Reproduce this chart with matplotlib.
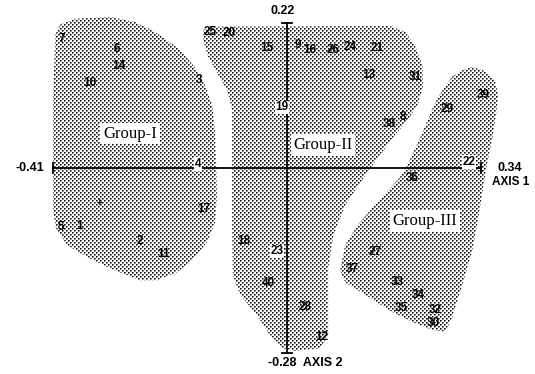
import numpy as np
import matplotlib.pyplot as plt
from matplotlib.patches import Polygon

# sample scores on the first two axes
amostras = ['7', '6', '14', '10', '3', '25', '20', '15', '9', '16', '26', '24', '21',
            '13', '31', '19', '39', '29', '38', '8', '4', '22', '36', '17', '5', '1',
            '2', '11', '18', '23', '40', '28', '12', '27', '37', '33', '34', '35',
            '32', '30']
eixo1 = [-0.394, -0.298, -0.294, -0.345, -0.154, -0.135, -0.102, -0.035, 0.019, 0.040,
         0.081, 0.110, 0.158, 0.144, 0.224, -0.009, 0.343, 0.280, 0.180, 0.203,
         -0.156, 0.319, 0.219, -0.145, -0.396, -0.363, -0.258, -0.217, -0.075, -0.018,
         -0.033, 0.032, 0.061, 0.154, 0.114, 0.194, 0.230, 0.201, 0.259, 0.256]
eixo2 = [0.195, 0.180, 0.155, 0.129, 0.133, 0.206, 0.205, 0.182, 0.186, 0.179,
         0.179, 0.183, 0.182, 0.141, 0.138, 0.092, 0.111, 0.089, 0.067, 0.077,
         0.006, 0.009, -0.015, -0.062, -0.089, -0.088, -0.111, -0.130, -0.111, -0.126,
         -0.174, -0.211, -0.256, -0.127, -0.153, -0.173, -0.192, -0.212, -0.215, -0.235]
noEixo = ['4', '22', '19', '23']  # labels that sit on the axis lines
centroide = (-0.328, -0.053)

# axis extents
eixo1Min, eixo1Max = -0.41, 0.34
eixo2Min, eixo2Max = -0.28, 0.22

# group outlines (axis units)
grupo1_x = [-0.406, -0.398, -0.371, -0.310, -0.266, -0.231, -0.187, -0.161, -0.144, -0.131,
            -0.126, -0.124, -0.123, -0.126, -0.140, -0.165, -0.193, -0.228, -0.258, -0.310,
            -0.350, -0.385, -0.405, -0.410, -0.410]
grupo1_y = [0.202, 0.217, 0.226, 0.229, 0.221, 0.206, 0.179, 0.152, 0.126, 0.095,
            0.050, -0.003, -0.041, -0.082, -0.112, -0.139, -0.158, -0.170, -0.170, -0.152,
            -0.135, -0.117, -0.091, -0.064, 0.103]
grupo2_x = [-0.147, -0.135, 0.180, 0.207, 0.224, 0.237, 0.238, 0.230, 0.212, 0.189,
            0.163, 0.137, 0.123, 0.102, 0.081, 0.072, 0.072, 0.058, 0.014, -0.007,
            -0.030, -0.053, -0.082, -0.095, -0.096, -0.096, -0.105, -0.123, -0.138, -0.147]
grupo2_y = [0.209, 0.214, 0.215, 0.206, 0.186, 0.156, 0.123, 0.098, 0.073, 0.050,
            0.020, -0.011, -0.029, -0.056, -0.102, -0.152, -0.253, -0.273, -0.277, -0.273,
            -0.253, -0.223, -0.192, -0.162, -0.094, 0.088, 0.118, 0.145, 0.168, 0.194]
grupo3_x = [0.289, 0.307, 0.324, 0.347, 0.364, 0.370, 0.366, 0.359, 0.350, 0.343,
            0.335, 0.324, 0.307, 0.289, 0.277, 0.254, 0.219, 0.184, 0.137, 0.102,
            0.093, 0.102, 0.124, 0.154, 0.194, 0.207, 0.221, 0.237, 0.254, 0.265]
grupo3_y = [0.138, 0.148, 0.153, 0.147, 0.133, 0.111, 0.080, 0.042, 0.005, -0.033,
            -0.076, -0.127, -0.177, -0.227, -0.248, -0.245, -0.233, -0.218, -0.192, -0.173,
            -0.155, -0.117, -0.086, -0.056, -0.018, -0.003, 0.023, 0.053, 0.088, 0.108]
grupoNomes = ['Group-I', 'Group-II', 'Group-III']
grupoPos = [(-0.275, 0.052), (0.063, 0.035), (0.242, -0.080)]

xlim = (-0.503, 0.4345)
ylim = (-0.3121, 0.2545)

fig = plt.figure(figsize=(5.35, 3.74), dpi=100)
ax = fig.add_axes([0, 0, 1, 1])
ax.axis('off')

# stipple screen (diamond dot lattice) used to shade the groups
h, w = 374, 535
ii, jj = np.mgrid[0:h, 0:w]
tela = np.ones((h, w))
a = ii % 4
b = (jj - 2 * ((ii // 2) % 2)) % 4
tela[(a % 2 == 0) & (b == 0)] = 0.05
tela[(a % 2 == 0) & (b == 1)] = 0.4
tela[(a % 2 == 1) & (b == 0)] = 0.4
tela[(a % 2 == 1) & (b == 1)] = 0.7

for gx, gy in [(grupo1_x, grupo1_y), (grupo2_x, grupo2_y), (grupo3_x, grupo3_y)]:
    poly = Polygon(np.column_stack([gx, gy]), closed=True, facecolor='none', edgecolor='none')
    ax.add_patch(poly)
    im = ax.imshow(tela, cmap='gray', vmin=0, vmax=1, extent=(xlim[0], xlim[1], ylim[0], ylim[1]),
                   origin='upper', aspect='auto', interpolation='nearest', zorder=1)
    im.set_clip_path(poly)

# axis lines with end bars
ax.plot([eixo1Min, eixo1Max], [0, 0], color='black', lw=1.3, zorder=2)
ax.plot([0, 0], [eixo2Min, eixo2Max], color='black', lw=1.3, zorder=2)
for xe in [eixo1Min, eixo1Max]:
    ax.plot([xe, xe], [-0.007, 0.007], color='black', lw=1.3, zorder=2)
for ye in [eixo2Min, eixo2Max]:
    ax.plot([-0.009, 0.009], [ye, ye], color='black', lw=1.3, zorder=2)

fonteNum = dict(family='Liberation Sans', fontweight='bold')
ax.annotate('%.2f' % eixo1Min, (eixo1Min, 0), xytext=(-6, 0), textcoords='offset points',
            ha='right', va='center', fontsize=9, **fonteNum)
ax.annotate('%.2f' % eixo1Max, (eixo1Max, 0), xytext=(12, 0), textcoords='offset points',
            ha='left', va='center', fontsize=9, **fonteNum)
ax.annotate('AXIS 1', (eixo1Max, 0), xytext=(8, -10), textcoords='offset points',
            ha='left', va='center', fontsize=8.5, **fonteNum)
ax.annotate('%.2f' % eixo2Max, (0, eixo2Max), xytext=(-3, 4), textcoords='offset points',
            ha='center', va='bottom', fontsize=9, **fonteNum)
ax.annotate('%.2f  AXIS 2' % eixo2Min, (0, eixo2Min), xytext=(-14, -3), textcoords='offset points',
            ha='left', va='top', fontsize=9, **fonteNum)

for nome, x, y in zip(amostras, eixo1, eixo2):
    caixa = dict(facecolor='white', edgecolor='none', pad=0.4) if nome in noEixo else None
    ax.text(x, y, nome, ha='center', va='center', fontsize=8.5, bbox=caixa, zorder=4, **fonteNum)
ax.text(centroide[0], centroide[1], '+', ha='center', va='center', fontsize=7, zorder=4, **fonteNum)

for nome, (x, y) in zip(grupoNomes, grupoPos):
    ax.text(x, y, nome, ha='center', va='center', fontsize=12, family='Liberation Serif', zorder=4,
            bbox=dict(facecolor='white', edgecolor='none', pad=2))

ax.set_xlim(xlim)
ax.set_ylim(ylim)
fig.savefig('out.png', dpi=100)
